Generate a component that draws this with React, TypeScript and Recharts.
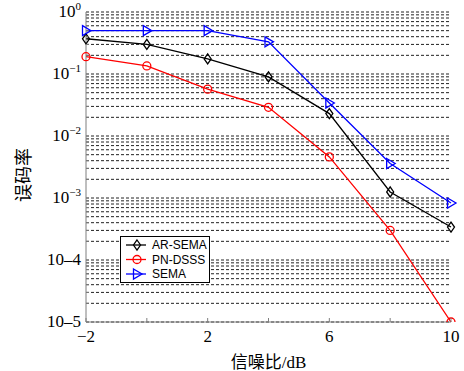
import React from "react";
import {
  LineChart,
  Line,
  XAxis,
  YAxis,
  CartesianGrid,
} from "recharts";

const snr = [-2, 0, 2, 4, 6, 8, 10];
const arSemaBer = [0.37, 0.3, 0.175, 0.09, 0.023, 0.00125, 0.00034];
const pnDsssBer = [0.19, 0.135, 0.057, 0.029, 0.0046, 0.0003, 0.00001];
const semaBer = [0.5, 0.5, 0.5, 0.33, 0.034, 0.0036, 0.00083];

const xTicks = [-2, 0, 2, 4, 6, 8, 10];
const xTickLabels: Record<number, string> = { [-2]: "\u22122", 2: "2", 6: "6", 10: "10" };

const decades = [1e-5, 1e-4, 1e-3, 1e-2, 1e-1];
const minorSteps = [1, 2, 3, 4, 5, 6, 7, 8, 9];
const yMajors = [1, 1e-1, 1e-2, 1e-3, 1e-4, 1e-5];
const yMajorBase = ["10", "10", "10", "10", "10\u20134", "10\u20135"];
const yMajorSup = ["0", "\u22121", "\u22122", "\u22123", "", ""];

const yTicks = [...decades.flatMap((d) => minorSteps.map((m) => +(m * d).toPrecision(3))), 1];

const data = snr.map((x, i) => ({
  x,
  arSema: arSemaBer[i],
  pnDsss: pnDsssBer[i],
  sema: semaBer[i],
}));

const SERIF = "'Liberation Serif', 'Times New Roman', serif";
const SANS = "'Liberation Sans', Arial, sans-serif";
const AXIS = "#7f7f7f";

function Marker({ kind, cx, cy, color }: { kind: string; cx: number; cy: number; color: string }) {
  if (kind === "diamond") {
    return (
      <polygon
        points={`${cx},${cy - 5} ${cx + 3.5},${cy} ${cx},${cy + 5} ${cx - 3.5},${cy}`}
        fill="none"
        stroke={color}
        strokeWidth={1.3}
      />
    );
  }
  if (kind === "circle") {
    return <circle cx={cx} cy={cy} r={4} fill="none" stroke={color} strokeWidth={1.3} />;
  }
  return (
    <polygon
      points={`${cx - 3.5},${cy - 5} ${cx + 5},${cy} ${cx - 3.5},${cy + 5}`}
      fill="none"
      stroke={color}
      strokeWidth={1.3}
    />
  );
}

const makeDot = (kind: string, color: string) => (props: any) => (
  <Marker key={`${kind}-${props.index}`} kind={kind} cx={props.cx} cy={props.cy} color={color} />
);

function BottomTick(props: any) {
  const { x, y, payload } = props;
  const label = xTickLabels[payload.value];
  return (
    <g>
      <line x1={x} y1={y} x2={x} y2={y - 4} stroke={AXIS} />
      {label && (
        <text x={x} y={y + 20} textAnchor="middle" fontFamily={SERIF} fontSize={17} fill="#000">
          {label}
        </text>
      )}
    </g>
  );
}

function TopTick(props: any) {
  const { x, y } = props;
  return <line x1={x} y1={y} x2={x} y2={y + 4} stroke={AXIS} />;
}

function LeftTick(props: any) {
  const { x, y, payload } = props;
  const idx = yMajors.findIndex((v) => Math.abs(v - payload.value) < v * 1e-6);
  if (idx < 0) return <line x1={x} y1={y} x2={x + 3} y2={y} stroke={AXIS} />;
  const sup = yMajorSup[idx];
  return (
    <text x={x - 5} y={y + 5} textAnchor="end" fontFamily={SERIF} fontSize={17} fill="#000">
      {yMajorBase[idx]}
      {sup && (
        <tspan dy={-7} fontSize={11}>
          {sup}
        </tspan>
      )}
    </text>
  );
}

function YLabel(props: any) {
  const vb = props.viewBox || { x: 0, y: 12, width: 86, height: 310 };
  const cx = vb.x + 22;
  const cy = vb.y + vb.height / 2 + 8;
  return (
    <text
      x={cx}
      y={cy}
      transform={`rotate(-90, ${cx}, ${cy})`}
      textAnchor="middle"
      dominantBaseline="central"
      fontFamily="'Noto Sans CJK SC', sans-serif"
      fontSize={18}
      fill="#000"
    >
      误码率
    </text>
  );
}

const legendItems = [
  { name: "AR-SEMA", kind: "diamond", color: "#000000" },
  { name: "PN-DSSS", kind: "circle", color: "#ff0000" },
  { name: "SEMA", kind: "triangle", color: "#0000ff" },
];

export default function App() {
  return (
    <div style={{ position: "absolute", left: 0, top: 0, width: 464, height: 371, background: "#fff" }}>
      <LineChart width={464} height={371} data={data} margin={{ top: 12, right: 13, bottom: 0, left: 0 }}>
        <CartesianGrid
          xAxisId="b"
          yAxisId="l"
          vertical={false}
          stroke="#222"
          strokeDasharray="3 2"
        />
        <XAxis
          xAxisId="b"
          dataKey="x"
          type="number"
          domain={[-2, 10]}
          ticks={xTicks}
          height={49}
          tickSize={0}
          tickMargin={0}
          tick={<BottomTick />}
          tickLine={false}
          axisLine={{ stroke: AXIS }}
          label={{
            value: "信噪比/dB",
            position: "insideBottom",
            offset: 3,
            fontFamily: `${SERIF}, 'Noto Sans CJK SC'`,
            fontSize: 17,
            fill: "#000",
          }}
        />
        <XAxis
          xAxisId="t"
          dataKey="x"
          type="number"
          orientation="top"
          domain={[-2, 10]}
          ticks={xTicks}
          height={0}
          tickSize={0}
          tickMargin={0}
          tick={<TopTick />}
          tickLine={false}
          axisLine={{ stroke: AXIS }}
        />
        <YAxis
          yAxisId="l"
          scale="log"
          domain={[1e-5, 1]}
          allowDataOverflow
          ticks={yTicks}
          interval={0}
          width={86}
          tickSize={0}
          tickMargin={0}
          tick={<LeftTick />}
          tickLine={false}
          axisLine={{ stroke: AXIS }}
          label={<YLabel />}
        />
        <YAxis
          yAxisId="r"
          orientation="right"
          scale="log"
          domain={[1e-5, 1]}
          allowDataOverflow
          width={0}
          tick={false}
          tickLine={false}
          axisLine={{ stroke: AXIS }}
        />
        <Line
          xAxisId="b"
          yAxisId="l"
          dataKey="arSema"
          stroke="#000000"
          strokeWidth={1.3}
          dot={makeDot("diamond", "#000000")}
          isAnimationActive={false}
        />
        <Line
          xAxisId="b"
          yAxisId="l"
          dataKey="pnDsss"
          stroke="#ff0000"
          strokeWidth={1.3}
          dot={makeDot("circle", "#ff0000")}
          isAnimationActive={false}
        />
        <Line
          xAxisId="b"
          yAxisId="l"
          dataKey="sema"
          stroke="#0000ff"
          strokeWidth={1.3}
          dot={makeDot("triangle", "#0000ff")}
          isAnimationActive={false}
        />
      </LineChart>
      <div
        style={{
          position: "absolute",
          left: 120,
          top: 236,
          width: 90,
          height: 47,
          background: "#fff",
          border: "1px solid #000",
          boxSizing: "border-box",
        }}
      >
        <svg width={88} height={45}>
          {legendItems.map((it, i) => {
            const cy = 8 + i * 14.5;
            return (
              <g key={it.name}>
                <line x1={5} y1={cy} x2={25} y2={cy} stroke={it.color} strokeWidth={1.3} />
                <Marker kind={it.kind} cx={16} cy={cy} color={it.color} />
                <text x={31} y={cy + 4} fontFamily={SANS} fontSize={12} fill="#000">
                  {it.name}
                </text>
              </g>
            );
          })}
        </svg>
      </div>
    </div>
  );
}
